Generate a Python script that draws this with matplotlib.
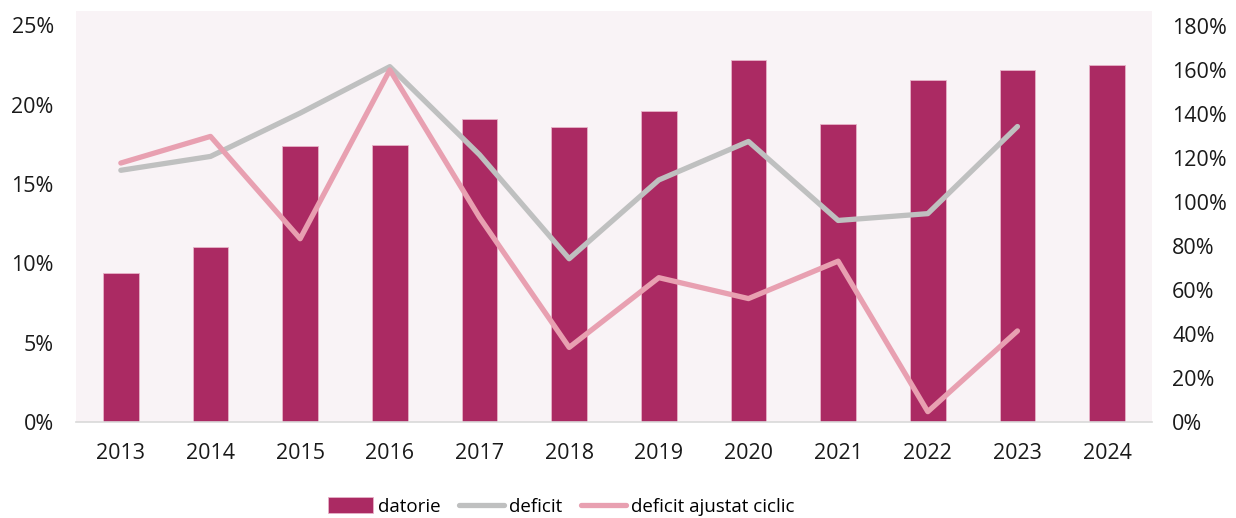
import numpy as np
from matplotlib import pyplot as plt
from matplotlib.ticker import FuncFormatter

plt.rcParams['font.family'] = ['Open Sans', 'DejaVu Sans']

#Data
years = ['2013', '2014', '2015', '2016', '2017', '2018',
         '2019', '2020', '2021', '2022', '2023', '2024']
datorie = [9.4, 11.0, 17.4, 17.45, 19.1, 18.6, 19.6, 22.8, 18.75, 21.55, 22.15, 22.5]
deficit = [114.4, 120.7, 140.4, 161.5, 121.5, 74.2, 110.0, 127.5, 91.6, 94.7, 134.3]
deficit_ciclic = [117.7, 129.8, 83.3, 160.0, 93.0, 33.9, 65.6, 56.1, 73.1, 4.7, 41.4]

c_bar = '#AB2A63'
c_def = '#BFC0C0'
c_cic = '#E8A0B1'
bg = '#F9F3F6'

fig = plt.figure(figsize=(12.36, 5.18), dpi=100)
ax = fig.add_axes([0.0615, 0.1853, 0.8705, 0.7935])
ax.set_facecolor(bg)
x = np.arange(len(years))

bars = ax.bar(x, datorie, width=0.4, color=c_bar, edgecolor='#E7B3C8',
              linewidth=0.6, label='datorie', zorder=2)
ax.set_ylim(0, 25.9)
ax.set_yticks([0, 5, 10, 15, 20, 25])
ax.yaxis.set_major_formatter(FuncFormatter(lambda v, p: '%d%%' % v))
ax.set_xlim(-0.5, len(years) - 0.5)
ax.set_xticks(x)
ax.set_xticklabels(years)

ax2 = ax.twinx()
l1, = ax2.plot(x[:len(deficit)], deficit, color=c_def, lw=3.8,
               solid_capstyle='round', label='deficit', zorder=3)
l2, = ax2.plot(x[:len(deficit_ciclic)], deficit_ciclic, color=c_cic, lw=3.8,
               solid_capstyle='round', label='deficit ajustat ciclic', zorder=3)
ax2.set_ylim(0, 186.8)
ax2.set_yticks(range(0, 181, 20))
ax2.yaxis.set_major_formatter(FuncFormatter(lambda v, p: '%d%%' % v))

for a in (ax, ax2):
    for s in a.spines.values():
        s.set_visible(False)
    a.tick_params(length=0, labelsize=15.5, colors='#1a1a1a')
ax.spines['bottom'].set_visible(True)
ax.spines['bottom'].set_color('#D9D9D9')
ax.spines['bottom'].set_linewidth(1.2)
ax.tick_params(axis='y', pad=16)
ax.tick_params(axis='x', pad=15)
ax2.tick_params(axis='y', pad=14.5)

fig.legend([bars, l1, l2], ['datorie', 'deficit', 'deficit ajustat ciclic'],
           loc='center', bbox_to_anchor=(0.454, 0.022), ncol=3, frameon=False,
           fontsize=13.5, handlelength=2.4, handleheight=0.9, handletextpad=0.25,
           columnspacing=1.0)

plt.savefig('out.png')
